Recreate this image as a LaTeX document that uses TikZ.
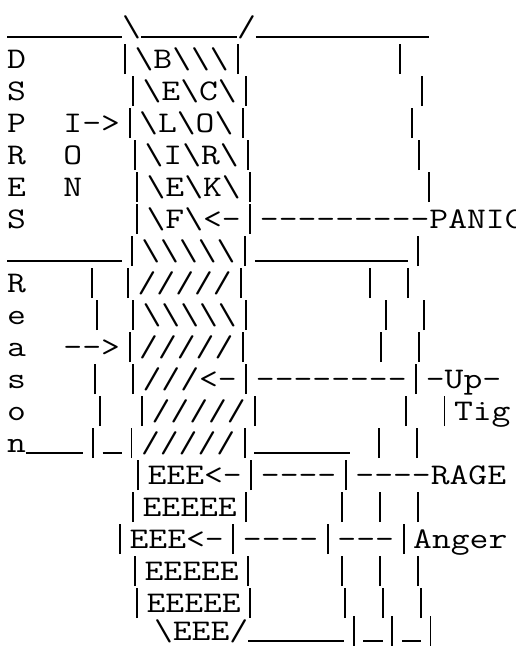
\documentclass[tikz,border=0pt]{standalone}
\newcommand\bs{\textbackslash}
\newcommand\uu{\rule[-1.8pt]{0.525em}{1.4pt}}
\newcommand\vb{\makebox[0.525em]{\rule[-6pt]{1.5pt}{30pt}}}
\newcommand\sx[1]{\scalebox{1.219}[1]{#1}}
\begin{document}
\begin{tikzpicture}[x=1pt,y=1pt,
  art/.style={anchor=base west,inner sep=0pt,outer sep=0pt,font=\ttfamily\fontsize{30}{30}\selectfont}]
\path[use as bounding box, clip] (0,0) rectangle (516,-646);
% row 0
\node[art] (r0) at (7,-36) {\sx{\uu\uu\uu\uu\uu\uu\bs\uu\uu\uu\uu\uu/\uu\uu\uu\uu\uu\uu\uu\uu\uu}};
% row 1
\node[art] (r1a) at (7,-68) {\sx{D}};
\node[art] (r1b) at (115.4,-68) {\sx{\vb\bs{}B\bs\bs\bs\vb}};
\node[art] (r1c) at (390.4,-68) {\sx{\vb}};
% row 2
\node[art] (r2a) at (7,-100) {\sx{S}};
\node[art] (r2b) at (123.4,-100) {\sx{\vb\bs{}E\bs{}C\bs\vb}};
\node[art] (r2c) at (412.4,-100) {\sx{\vb}};
% row 3
\node[art] (r3a) at (7,-132) {\sx{P~~I->\vb\bs{}L\bs{}O\bs\vb}};
\node[art] (r3c) at (402.4,-132) {\sx{\vb}};
% row 4
\node[art] (r4a) at (7,-164) {\sx{R~~O}};
\node[art] (r4b) at (125.4,-164) {\sx{\vb\bs{}I\bs{}R\bs\vb}};
\node[art] (r4c) at (409.4,-164) {\sx{\vb}};
% row 5
\node[art] (r5a) at (7,-196) {\sx{E~~N}};
\node[art] (r5b) at (127.4,-196) {\sx{\vb\bs{}E\bs{}K\bs\vb}};
\node[art] (r5c) at (419.4,-196) {\sx{\vb}};
% row 6
\node[art] (r6a) at (7,-228) {\sx{S}};
\node[art] (r6b) at (127.4,-228) {\sx{\vb\bs{}F\bs<-\vb---------PANIC}};
% row 7
\node[art] (r7) at (7,-260) {\sx{\uu\uu\uu\uu\uu\uu\vb\bs\bs\bs\bs\bs\vb\uu\uu\uu\uu\uu\uu\uu\uu\vb}};
% row 8
\node[art] (r8a) at (7,-292) {\sx{R}};
\node[art] (r8b) at (82.4,-292) {\sx{\vb}};
\node[art] (r8c) at (118.4,-292) {\sx{\vb/////\vb}};
\node[art] (r8d) at (360.4,-292) {\sx{\vb~\vb}};
% row 9
\node[art] (r9a) at (7,-324) {\sx{e}};
\node[art] (r9b) at (87.4,-324) {\sx{\vb}};
\node[art] (r9c) at (123.4,-324) {\sx{\vb\bs\bs\bs\bs\bs\vb}};
\node[art] (r9d) at (376.4,-324) {\sx{\vb~\vb}};
% row 10
\node[art] (r10a) at (7,-356) {\sx{a~~-{}->\vb/////\vb}};
\node[art] (r10d) at (371.4,-356) {\sx{\vb~\vb}};
% row 11
\node[art] (r11a) at (7,-388) {\sx{s}};
\node[art] (r11b) at (85.4,-388) {\sx{\vb}};
\node[art] (r11c) at (123.4,-388) {\sx{\vb///<-\vb--------\vb-Up-}};
% row 12
\node[art] (r12a) at (7,-420) {\sx{o}};
\node[art] (r12b) at (90.4,-420) {\sx{\vb}};
\node[art] (r12c) at (132.4,-420) {\sx{\vb/////\vb~~~~~~~\vb~\vb{}Tig}};
% row 13
\node[art] (r13) at (7,-452) {\sx{n\uu\uu\uu\vb\uu\vb/////\vb\uu\uu\uu\uu\uu~\vb~\vb}};
% row 14
\node[art] (r14) at (128.4,-484) {\sx{\vb{}EEE<-\vb----\vb----RAGE}};
% row 15
\node[art] (r15a) at (123.4,-516) {\sx{\vb{}EEEEE\vb}};
\node[art] (r15b) at (332.4,-516) {\sx{\vb~\vb~\vb}};
% row 16
\node[art] (r16) at (110.4,-548) {\sx{\vb{}EEE<-\vb----\vb---\vb{}Anger}};
% row 17
\node[art] (r17a) at (125.4,-580) {\sx{\vb{}EEEEE\vb}};
\node[art] (r17b) at (332.4,-580) {\sx{\vb~\vb~\vb}};
% row 18
\node[art] (r18a) at (127.4,-612) {\sx{\vb{}EEEEE\vb}};
\node[art] (r18b) at (335.4,-612) {\sx{\vb~\vb~\vb}};
% row 19
\node[art] (r19) at (154,-640) {\sx{\bs{}EEE/\uu\uu\uu\uu\uu\vb\uu\vb\uu\vb}};
\end{tikzpicture}
\end{document}
